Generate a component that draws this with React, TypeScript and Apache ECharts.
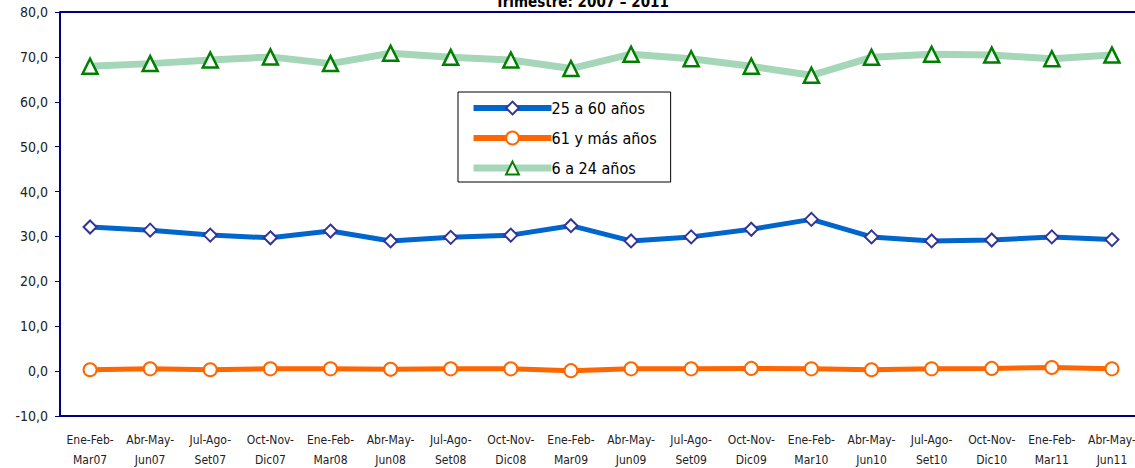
import React, { useEffect, useRef } from "react";
import * as echarts from "echarts";

const categories = [
  "Ene-Feb-\nMar07", "Abr-May-\nJun07", "Jul-Ago-\nSet07", "Oct-Nov-\nDic07",
  "Ene-Feb-\nMar08", "Abr-May-\nJun08", "Jul-Ago-\nSet08", "Oct-Nov-\nDic08",
  "Ene-Feb-\nMar09", "Abr-May-\nJun09", "Jul-Ago-\nSet09", "Oct-Nov-\nDic09",
  "Ene-Feb-\nMar10", "Abr-May-\nJun10", "Jul-Ago-\nSet10", "Oct-Nov-\nDic10",
  "Ene-Feb-\nMar11", "Abr-May-\nJun11",
];
const age25to60 = [32.1, 31.4, 30.3, 29.7, 31.2, 29.0, 29.8, 30.3, 32.4, 29.0, 29.9, 31.6, 33.8, 29.9, 29.0, 29.2, 29.9, 29.3];
const age61plus = [0.3, 0.5, 0.3, 0.5, 0.5, 0.4, 0.5, 0.5, 0.1, 0.5, 0.5, 0.6, 0.5, 0.3, 0.5, 0.6, 0.8, 0.5];
const age6to24 = [67.9, 68.5, 69.3, 70.0, 68.5, 70.8, 69.9, 69.3, 67.4, 70.6, 69.6, 67.9, 65.9, 69.9, 70.6, 70.4, 69.6, 70.4];
const seriesNames = ["25 a 60 años", "61 y más años", "6 a 24 años"];
const titleText = "Trimestre: 2007 – 2011";

const FONT = "'DejaVu Sans Condensed', 'Liberation Sans Narrow', 'Arial Narrow', 'Liberation Sans', Arial, sans-serif";

export default function App() {
  const ref = useRef<HTMLDivElement>(null);
  useEffect(() => {
    if (!ref.current) return;
    const chart = echarts.init(ref.current, undefined, { renderer: "svg" });
    chart.setOption({
      animation: false,
      backgroundColor: "#ffffff",
      title: {
        text: titleText,
        left: 577,
        textAlign: "center",
        top: -11,
        textStyle: { fontFamily: FONT, fontSize: 15, fontWeight: "bold", color: "#000" },
      },
      legend: {
        orient: "vertical",
        left: 458,
        top: 92,
        padding: [8, 14, 6, 12],
        itemGap: 14,
        itemWidth: 78,
        itemHeight: 16,
        backgroundColor: "#fff",
        borderColor: "#000",
        borderWidth: 1,
        borderRadius: 0,
        textStyle: { fontFamily: FONT, fontSize: 16, color: "#000", padding: [0, 0, 0, -5] },
        data: [
          { name: seriesNames[0], lineStyle: { width: 6 } },
          { name: seriesNames[1], lineStyle: { width: 6 } },
          { name: seriesNames[2], lineStyle: { width: 7 } },
        ],
      },
      grid: { left: 60, top: 12, width: 1082, height: 404, containLabel: false, outerBoundsMode: "none" },
      xAxis: {
        type: "category",
        data: categories,
        boundaryGap: true,
        axisLine: { show: true, onZero: false, lineStyle: { color: "#000080", width: 2 } },
        axisTick: { show: false },
        axisLabel: {
          interval: 0,
          margin: 14,
          lineHeight: 20,
          fontFamily: FONT,
          fontSize: 12,
          color: "#222",
        },
        splitLine: { show: false },
      },
      yAxis: {
        type: "value",
        min: -10,
        max: 80,
        interval: 10,
        axisLine: { show: true, lineStyle: { color: "#000080", width: 2 } },
        axisTick: { show: true, length: 5, lineStyle: { color: "#000080" } },
        axisLabel: {
          margin: 12,
          fontFamily: FONT,
          fontSize: 14,
          color: "#222",
          formatter: (v: number) => v.toFixed(1).replace(".", ","),
        },
        splitLine: { show: false },
      },
      graphic: [
        {
          type: "line",
          shape: { x1: 60, y1: 12, x2: 1135, y2: 12 },
          style: { stroke: "#000080", lineWidth: 2 },
          z: 10,
        },
      ],
      series: [
        {
          name: seriesNames[2],
          type: "line",
          data: age6to24,
          symbol: "triangle",
          symbolSize: 15,
          lineStyle: { color: "#a6d6b8", width: 7 },
          itemStyle: { color: "#ffffff", borderColor: "#008000", borderWidth: 2.5 },
          z: 2,
        },
        {
          name: seriesNames[0],
          type: "line",
          data: age25to60,
          symbol: "diamond",
          symbolSize: 13,
          lineStyle: { color: "#0066cc", width: 5 },
          itemStyle: { color: "#ffffff", borderColor: "#333399", borderWidth: 2 },
          z: 3,
        },
        {
          name: seriesNames[1],
          type: "line",
          data: age61plus,
          symbol: "circle",
          symbolSize: 13,
          lineStyle: { color: "#ff6600", width: 5 },
          itemStyle: { color: "#ffffff", borderColor: "#ff6600", borderWidth: 2 },
          z: 3,
        },
      ],
    });
    return () => chart.dispose();
  }, []);
  return <div ref={ref} style={{ position: "absolute", left: 0, top: 0, width: 1135, height: 468 }} />;
}
